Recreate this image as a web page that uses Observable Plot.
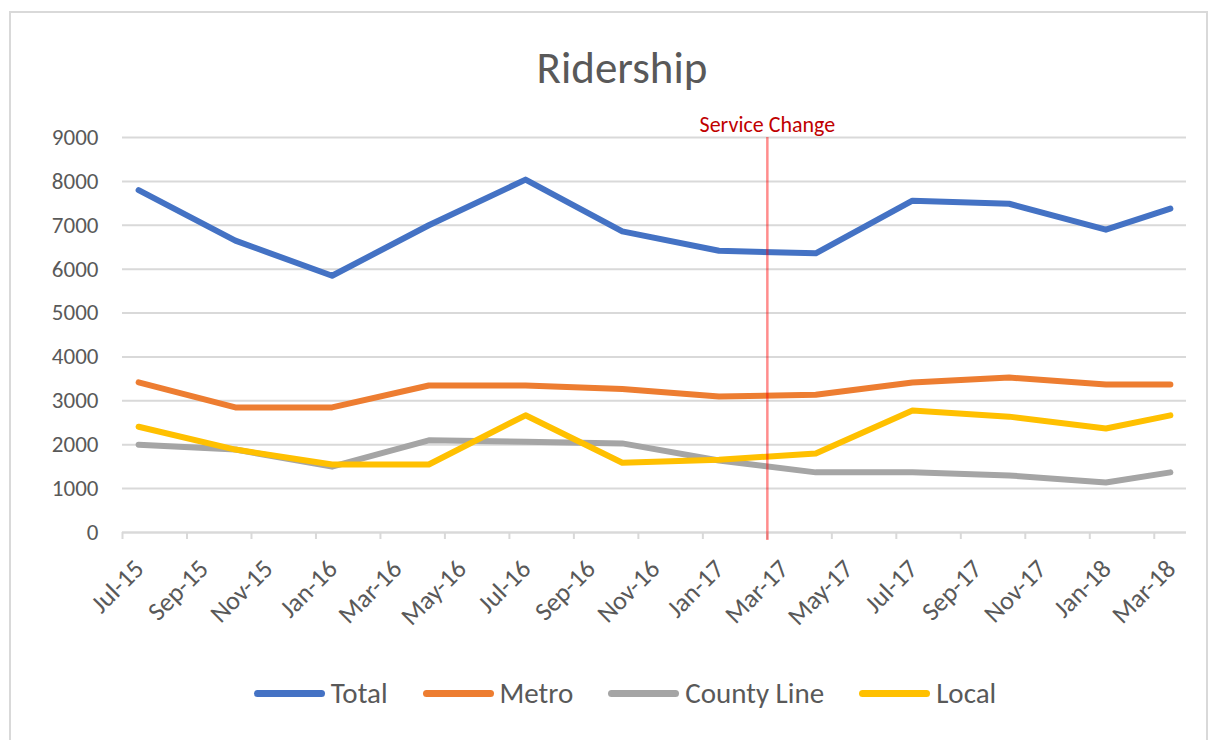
<!DOCTYPE html>
<html>
<head>
<meta charset="utf-8">
<script src="https://cdn.jsdelivr.net/npm/d3@7"></script>
<script src="https://cdn.jsdelivr.net/npm/@observablehq/plot@0.6"></script>
<style>
  html, body { margin: 0; padding: 0; background: #fff; }
  body { width: 1217px; height: 740px; position: relative; overflow: hidden; font-family: Carlito, Calibri, Lato, sans-serif; color: #595959; }
  #frame { position: absolute; left: 9px; top: 11px; width: 1199px; height: 760px; border: 2px solid #d9d9d9; box-sizing: border-box; }
  #title { position: absolute; left: 0; width: 1244px; top: 41px; text-align: center; font-size: 45px; line-height: 54px; color: #595959; }
  #chart { position: absolute; left: 0; top: 100px; }
  #legend { position: absolute; left: 0; width: 1250px; top: 675px; display: flex; justify-content: center; align-items: center; gap: 35px; font-size: 29px; color: #595959; }
  .item { display: flex; align-items: center; gap: 6px; }
  .sw { width: 71px; height: 7px; border-radius: 4px; }
</style>
</head>
<body>
<div id="frame"></div>
<div id="title">Ridership</div>
<div id="chart"></div>
<div id="legend"></div>
<script>
// Month labels for each quarterly observation
const months = ["Jul-15","Oct-15","Jan-16","Apr-16","Jul-16","Oct-16","Jan-17","Apr-17","Jul-17","Oct-17","Jan-18","Mar-18"];
const total      = [7800, 6650, 5850, 7000, 8040, 6860, 6420, 6360, 7560, 7490, 6900, 7380];
const metro      = [3420, 2850, 2850, 3350, 3350, 3270, 3100, 3140, 3420, 3530, 3370, 3370];
const countyLine = [2000, 1890, 1500, 2100, 2070, 2030, 1640, 1370, 1370, 1300, 1140, 1370];
const local      = [2410, 1890, 1550, 1550, 2670, 1590, 1660, 1800, 2780, 2640, 2370, 2670];
const seriesNames = ["Total", "Metro", "County Line", "Local"];
const seriesColors = ["#4472C4", "#ED7D31", "#A5A5A5", "#FFC000"];
const tickLabels = ["Jul-15","Sep-15","Nov-15","Jan-16","Mar-16","May-16","Jul-16","Sep-16","Nov-16","Jan-17","Mar-17","May-17","Jul-17","Sep-17","Nov-17","Jan-18","Mar-18"];
const yTicks = [0,1000,2000,3000,4000,5000,6000,7000,8000,9000];
const axisStart = "Jul-15";
const axisEnd = "Apr-18";
const serviceChange = "Mar-17";
const serviceLabel = "Service Change";

const parse = d3.utcParse("%b-%y");
const t0 = parse(axisStart);
const mIdx = s => d3.utcMonth.count(t0, parse(s));   // month slot index

const allSeries = [total, metro, countyLine, local];
const data = [];
allSeries.forEach((vals, si) => {
  vals.forEach((v, i) => data.push({series: seriesNames[si], x: mIdx(months[i]) + 0.5, y: v}));
});
const ticks = tickLabels.map(s => ({label: s, x: mIdx(s), y: 0}));

const fontFam = "Carlito, Calibri, Lato, sans-serif";
const chart = Plot.plot({
  width: 1217,
  height: 560,
  marginLeft: 122,
  marginRight: 31,
  marginTop: 37,
  marginBottom: 128,
  style: {fontFamily: fontFam, background: "transparent", overflow: "visible"},
  x: {type: "linear", domain: [0, mIdx(axisEnd)], axis: null},
  y: {type: "linear", domain: [0, 9000], axis: null},
  color: {domain: seriesNames, range: seriesColors},
  marks: [
    Plot.gridY(yTicks, {stroke: "#d9d9d9", strokeOpacity: 1, strokeWidth: 2}),
    Plot.axisY(yTicks, {label: null, tickSize: 0, tickPadding: 24, fontSize: 23, fill: "#595959", tickFormat: d => String(d)}),
    Plot.ruleY([0], {stroke: "#d9d9d9", strokeWidth: 2}),
    Plot.axisX(ticks.map(d => d.x), {label: null, tickSize: 7, tickFormat: () => "", stroke: "#d9d9d9", strokeWidth: 2}),
    Plot.text(ticks, {x: "x", y: "y", text: "label", rotate: -45, textAnchor: "end", lineAnchor: "middle", dx: 17, dy: 32, fontSize: 26, fill: "#595959"}),
    Plot.line(data, {x: "x", y: "y", z: "series", stroke: "series", strokeWidth: 6, strokeLinejoin: "round", strokeLinecap: "round"}),
    Plot.ruleX([mIdx(serviceChange)], {x: d => d, y1: 9000, y2: 0, stroke: "#ff0000", strokeOpacity: 0.45, strokeWidth: 2.5, insetBottom: -8}),
    Plot.text([{x: mIdx(serviceChange), y: 9000, label: serviceLabel}], {x: "x", y: "y", text: "label", dy: -13, fontSize: 22, fill: "#C00000", lineAnchor: "middle"})
  ]
});
document.getElementById("chart").appendChild(chart);

const legend = document.getElementById("legend");
seriesNames.forEach((name, i) => {
  const item = document.createElement("div");
  item.className = "item";
  const sw = document.createElement("div");
  sw.className = "sw";
  sw.style.background = seriesColors[i];
  const lab = document.createElement("span");
  lab.textContent = name;
  item.appendChild(sw);
  item.appendChild(lab);
  legend.appendChild(item);
});
</script>
</body>
</html>
